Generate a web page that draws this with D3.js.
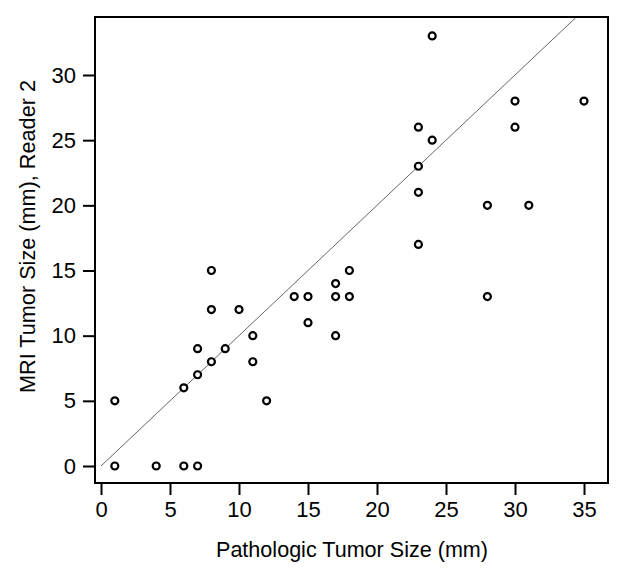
<!DOCTYPE html>
<html><head><meta charset="utf-8">
<script src="https://cdn.jsdelivr.net/npm/d3@7"></script>
<style>body{margin:0;background:#fff}svg{display:block}</style>
</head><body>
<svg id="c" width="623" height="578"></svg>
<script>
const pathologic = [1,1,4,6,7,6,7,7,8,9,8,8,10,11,11,12,14,15,15,17,17,18,18,17,23,23,23,23,24,24,28,28,30,30,31,35];
const mriReader2 = [0,5,0,0,0,6,7,9,8,9,12,15,12,10,8,5,13,13,11,14,13,13,15,10,26,23,21,17,33,25,20,13,28,26,20,28];
const xTicks = [0,5,10,15,20,25,30,35];
const yTicks = [0,5,10,15,20,25,30];
const xTitle = "Pathologic Tumor Size (mm)";
const yTitle = "MRI Tumor Size (mm), Reader 2";

const svg = d3.select("#c");
const L = 95, R = 608, T = 17, B = 483;
const x = d3.scaleLinear().domain([0,35]).range([101,584]);
const y = d3.scaleLinear().domain([0,30]).range([466,75]);
const font = "'Liberation Sans', Arial, sans-serif";

// identity line clipped to frame
svg.append("clipPath").attr("id","clip").append("rect").attr("x",L).attr("y",T).attr("width",R-L).attr("height",B-T);
const lineMax = y.invert(T);
svg.append("line").attr("clip-path","url(#clip)")
  .attr("x1",x(0)).attr("y1",y(0)).attr("x2",x(lineMax)).attr("y2",y(lineMax))
  .attr("stroke","#555").attr("stroke-width",0.9);

// frame
svg.append("rect").attr("x",L).attr("y",T).attr("width",R-L).attr("height",B-T)
  .attr("fill","none").attr("stroke","#000").attr("stroke-width",2);

// y axis
const ya = svg.append("g").attr("transform",`translate(${L},0)`)
  .call(d3.axisLeft(y).tickValues(yTicks).tickSize(12).tickPadding(7));
ya.select(".domain").remove();
ya.selectAll("line").attr("stroke","#000").attr("stroke-width",2);
ya.selectAll("text").attr("font-family",font).attr("font-size",22).attr("fill","#000");

// x axis
const xa = svg.append("g").attr("transform",`translate(0,${B+1})`)
  .call(d3.axisBottom(x).tickValues(xTicks).tickSize(11).tickPadding(6));
xa.select(".domain").remove();
xa.selectAll("line").attr("stroke","#000").attr("stroke-width",2);
xa.selectAll("text").attr("font-family",font).attr("font-size",22).attr("fill","#000");

// titles
svg.append("text").attr("x",352).attr("y",557).attr("text-anchor","middle")
  .attr("font-family",font).attr("font-size",22)
  .attr("textLength",272).attr("lengthAdjust","spacingAndGlyphs").text(xTitle);
svg.append("text").attr("transform",`translate(35,236.5) rotate(-90)`).attr("text-anchor","middle")
  .attr("font-family",font).attr("font-size",22)
  .attr("textLength",313).attr("lengthAdjust","spacingAndGlyphs").text(yTitle);

// points
svg.append("g").selectAll("circle").data(pathologic.map((d,i)=>[d,mriReader2[i]])).join("circle")
  .attr("cx",d=>x(d[0])).attr("cy",d=>y(d[1])).attr("r",3.5)
  .attr("fill","#fff").attr("stroke","#000").attr("stroke-width",2.2);
</script>
</body></html>
